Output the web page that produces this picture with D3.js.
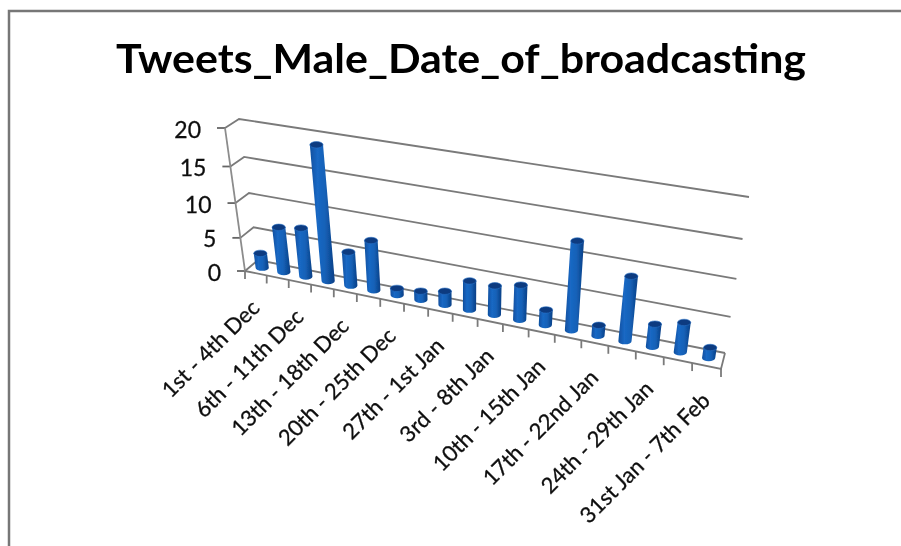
<!DOCTYPE html>
<html><head><meta charset="utf-8">
<script src="https://cdn.jsdelivr.net/npm/d3@7"></script>
<style>html,body{margin:0;background:#fff}svg{display:block}</style></head>
<body><script>
const chartTitle = "Tweets_Male_Date_of_broadcasting";
const categories = ["1st - 4th Dec","","6th - 11th Dec","","13th - 18th Dec","","20th - 25th Dec","","27th - 1st Jan","","3rd - 8th Jan","","10th - 15th Jan","","17th - 22nd Jan","","24th - 29th Jan","","31st Jan - 7th Feb"];
const values = [2.2,6.7,7.2,19,5,7.3,1,1.3,2,4.2,4.2,5,2.2,12.3,1.5,9,3.2,4.2,1.5];
const yTicks = [0,5,10,15,20];

const W=901,H=546;
const svg=d3.select("body").append("svg").attr("width",W).attr("height",H);
const defs=svg.append("defs");
const grad=defs.append("linearGradient").attr("id","cyl");
[[0,"#0f4f9e"],[.3,"#1a68c4"],[.6,"#1562b8"],[1,"#0b3f86"]].forEach(([o,c])=>grad.append("stop").attr("offset",o).attr("stop-color",c));
defs.append("filter").attr("id","soft").append("feGaussianBlur").attr("stdDeviation",0.55);
defs.append("filter").attr("id","softT").append("feGaussianBlur").attr("stdDeviation",0.4);

// frame
svg.append("path").attr("d",`M9,${H}V11H${W}`).attr("fill","none").attr("stroke","#777").attr("stroke-width",2.5);
svg.append("text").attr("x",461).attr("y",73).attr("text-anchor","middle").attr("filter","url(#softT)")
  .attr("font-family","Lato").attr("font-weight",700).attr("font-size",41)
  .attr("textLength",690).attr("lengthAdjust","spacingAndGlyphs").attr("fill","#000").text(chartTitle);

// perspective projection through scales
const n=categories.length;
const tScale=d3.scaleLinear().domain([0,n]).range([0,1]);
const tw=t=>0.86*t/(1-0.14*t);
const vScale=d3.scaleLinear().domain([0,20]).range([0,1]);
const vw=u=>0.905*u/(1-0.095*u);
const C={fb0:[245,271],ft0:[225,128],bb0:[258,260],bt0:[239,119],fb1:[721,369],ft1:[745,214],bb1:[725,353],bt1:[749,197]};
const lerp=(a,b,k)=>[a[0]+(b[0]-a[0])*k,a[1]+(b[1]-a[1])*k];
function P(i,v,z){
  const a=tw(tScale(i)),u=vw(vScale(v));
  const f0=lerp(C.fb0,C.ft0,u),f1=lerp(C.fb1,C.ft1,u),b0=lerp(C.bb0,C.bt0,u),b1=lerp(C.bb1,C.bt1,u);
  return lerp(lerp(f0,f1,a),lerp(b0,b1,a),z);
}
const line=d3.line();
const g=svg.append("g").attr("filter","url(#soft)");
const gray="#7a7a7a";
// gridlines on back and side wall
yTicks.forEach(v=>{
  g.append("path").attr("d",line([P(0,v,0),P(0,v,1),P(n,v,1)])).attr("fill","none").attr("stroke",gray).attr("stroke-width",1.8);
  const p=P(0,v,0);
  g.append("path").attr("d",line([[p[0]-8,p[1]],p])).attr("stroke","#666").attr("stroke-width",1.8);
});
// axes
g.append("path").attr("d",line([P(0,0,0),P(0,20,0)])).attr("stroke","#8c8c8c").attr("stroke-width",1.8);
g.append("path").attr("d",line([P(0,0,0),P(n,0,0),P(n,0,1)])).attr("fill","none").attr("stroke",gray).attr("stroke-width",1.8);
d3.range(n+1).forEach(i=>{
  const p=P(i,0,0);
  g.append("path").attr("d",line([p,[p[0],p[1]+8]])).attr("stroke",gray).attr("stroke-width",1.8);
});
// cylinders
const R=6.6,RY=3.2;
values.forEach((v,i)=>{
  const b=P(i+.5,0,.5),t=P(i+.5,v,.5);
  g.append("path").attr("d",`M${t[0]-R},${t[1]}L${b[0]-R},${b[1]}A${R},${RY} 0 0 0 ${b[0]+R},${b[1]}L${t[0]+R},${t[1]}Z`).attr("fill","url(#cyl)");
  g.append("ellipse").attr("cx",t[0]).attr("cy",t[1]).attr("rx",R).attr("ry",RY).attr("fill","#0a3a80").attr("stroke","#2a70c4").attr("stroke-width",.6);
});
// labels
const labels=svg.append("g").attr("filter","url(#softT)").attr("fill","#111").attr("stroke","#111").attr("stroke-width",0.3);
yTicks.forEach(v=>{
  const p=P(0,v,0);
  labels.append("text").attr("x",p[0]-24).attr("y",p[1]+9.5).attr("text-anchor","end").attr("font-family","Lato").attr("font-size",23).text(v);
});
categories.forEach((c,i)=>{
  if(!c) return;
  const p=P(i+.5,0,0);
  labels.append("text").attr("transform",`translate(${p[0]+5},${p[1]+36}) rotate(-45)`).attr("text-anchor","end").attr("font-family","Lato").attr("font-size",22).text(c);
});
</script></body></html>
